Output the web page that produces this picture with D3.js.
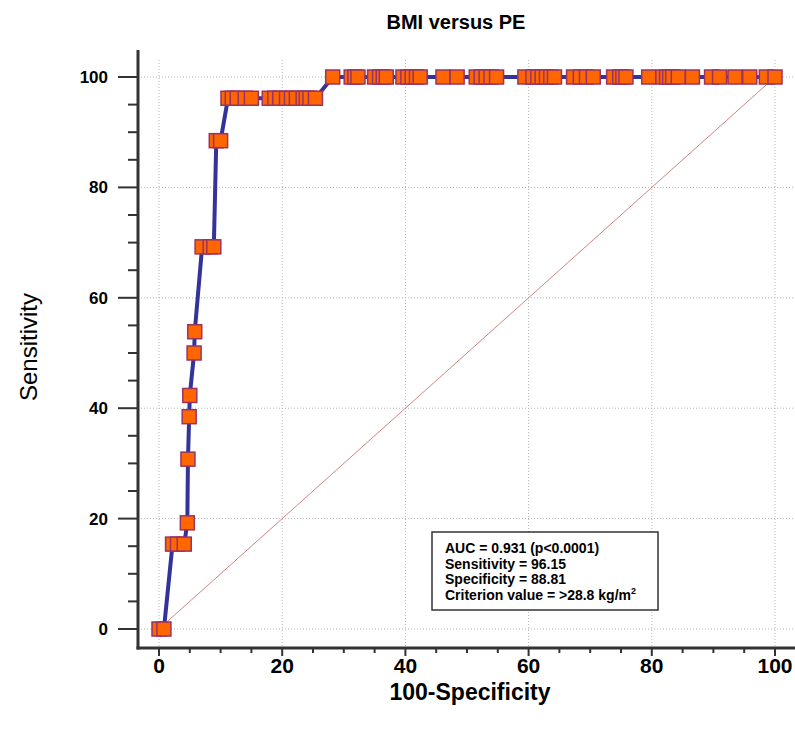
<!DOCTYPE html>
<html>
<head>
<meta charset="utf-8">
<script src="https://cdn.jsdelivr.net/npm/d3@7"></script>
<style>
  body { margin: 0; background: #fff; }
  text { font-family: Arial, "Liberation Sans", sans-serif; }
</style>
</head>
<body>
<div id="chart"></div>
<script>
// ROC points: 100-Specificity (x) and Sensitivity (y)
const fpr = [0, 0.8,
  2.2, 3.0, 4.1,
  4.6, 4.7, 4.9, 5.0, 5.7, 5.8,
  7.0, 8.3, 8.9,
  9.3, 10.0,
  11.2, 11.9, 12.7, 14.0, 15.0, 17.9, 18.8, 19.6, 20.7, 21.5, 22.3, 23.4, 23.9, 24.5, 25.4,
  28.2, 31.2, 31.8, 32.3, 35.0, 35.8, 36.4, 36.9, 39.6, 40.4, 41.1, 41.8, 42.4, 46.1, 48.4,
  51.5, 52.3, 53.1, 53.9, 54.8, 59.4, 60.7, 61.5, 62.2, 62.9, 63.6, 64.2, 67.3, 68.4, 69.4, 70.5,
  73.8, 74.8, 75.3, 75.8, 79.5, 81.8, 82.4, 82.9, 83.4, 84.3, 86.6, 89.7, 91.0, 93.5, 95.9, 98.6, 100];
const sens = [0, 0,
  15.38, 15.38, 15.38,
  19.23, 30.77, 38.46, 42.31, 50.0, 53.85,
  69.23, 69.23, 69.23,
  88.46, 88.46,
  96.15, 96.15, 96.15, 96.15, 96.15, 96.15, 96.15, 96.15, 96.15, 96.15, 96.15, 96.15, 96.15, 96.15, 96.15,
  100, 100, 100, 100, 100, 100, 100, 100, 100, 100, 100, 100, 100, 100, 100,
  100, 100, 100, 100, 100, 100, 100, 100, 100, 100, 100, 100, 100, 100, 100, 100,
  100, 100, 100, 100, 100, 100, 100, 100, 100, 100, 100, 100, 100, 100, 100, 100, 100];
const majorTicks = [0, 20, 40, 60, 80, 100];
const minorTicks = d3.range(0, 101, 5);
const statLines = ["AUC = 0.931 (p<0.0001)", "Sensitivity = 96.15", "Specificity = 88.81", "Criterion value = >28.8 kg/m"];

const width = 795, height = 734;
const svg = d3.select("#chart").append("svg")
    .attr("width", width)
    .attr("height", height);

const x = d3.scaleLinear().domain([0, 100]).range([159, 775]);
const y = d3.scaleLinear().domain([0, 100]).range([629, 77]);
const axisX = 138, axisY = 648;

// dotted grid
svg.selectAll(".vgrid").data(majorTicks).enter().append("line")
    .attr("x1", d => x(d)).attr("x2", d => x(d))
    .attr("y1", 60).attr("y2", axisY)
    .attr("stroke", "#b5b5b5").attr("stroke-dasharray", "1,2");
svg.selectAll(".hgrid").data(majorTicks).enter().append("line")
    .attr("x1", axisX).attr("x2", 793)
    .attr("y1", d => y(d)).attr("y2", d => y(d))
    .attr("stroke", "#b5b5b5").attr("stroke-dasharray", "1,2");

// diagonal reference
svg.append("line")
    .attr("x1", x(0)).attr("y1", y(0))
    .attr("x2", x(100)).attr("y2", y(100))
    .attr("stroke", "#c06464").attr("stroke-width", 0.8);

// y axis
const gy = svg.append("g").attr("transform", `translate(${axisX},0)`);
gy.selectAll(".tk").data(minorTicks).enter().append("line")
    .attr("x1", d => d % 20 === 0 ? -20 : -10).attr("x2", 0)
    .attr("y1", d => y(d)).attr("y2", d => y(d))
    .attr("stroke", "#333").attr("stroke-width", 2);
gy.selectAll(".lb").data(majorTicks).enter().append("text")
    .attr("x", -30).attr("y", d => y(d)).attr("dy", "0.35em")
    .attr("text-anchor", "end")
    .style("font-size", "17px").style("font-weight", "bold")
    .text(d => d);
svg.append("line")
    .attr("x1", axisX).attr("x2", axisX).attr("y1", 50).attr("y2", axisY + 1.5)
    .attr("stroke", "#333").attr("stroke-width", 3);

// x axis
const gx = svg.append("g").attr("transform", `translate(0,${axisY})`);
gx.selectAll(".tk").data(minorTicks).enter().append("line")
    .attr("x1", d => x(d)).attr("x2", d => x(d))
    .attr("y1", 0).attr("y2", d => d % 20 === 0 ? 8 : 5)
    .attr("stroke", "#333").attr("stroke-width", 2);
gx.selectAll(".lb").data(majorTicks).enter().append("text")
    .attr("x", d => x(d)).attr("y", 25)
    .attr("text-anchor", "middle")
    .style("font-size", "21px").style("font-weight", "bold")
    .text(d => d);
svg.append("line")
    .attr("x1", axisX - 1.5).attr("x2", width).attr("y1", axisY).attr("y2", axisY)
    .attr("stroke", "#333").attr("stroke-width", 3);

// ROC curve
const pts = fpr.map((d, i) => [d, sens[i]]);
svg.append("path")
    .datum(pts)
    .attr("fill", "none")
    .attr("stroke", "#333399")
    .attr("stroke-width", 4)
    .attr("d", d3.line().x(d => x(d[0])).y(d => y(d[1])));

const ms = 14;
svg.selectAll(".pt").data(pts).enter().append("rect")
    .attr("x", d => x(d[0]) - ms / 2).attr("y", d => y(d[1]) - ms / 2)
    .attr("width", ms).attr("height", ms)
    .attr("fill", "#ff6600").attr("stroke", "#993366").attr("stroke-width", 1.5);

// titles
svg.append("text").attr("x", 456).attr("y", 29)
    .attr("text-anchor", "middle")
    .style("font-size", "20px").style("font-weight", "bold")
    .text("BMI versus PE");
svg.append("text").attr("x", 470).attr("y", 700)
    .attr("text-anchor", "middle")
    .style("font-size", "23px").style("font-weight", "bold")
    .text("100-Specificity");
svg.append("text")
    .attr("transform", "translate(37,347) rotate(-90)")
    .attr("text-anchor", "middle")
    .style("font-size", "24px")
    .text("Sensitivity");

// stats box
const box = svg.append("g").attr("transform", "translate(432,532)");
box.append("rect").attr("width", 226).attr("height", 78)
    .attr("fill", "#fff").attr("stroke", "#333").attr("stroke-width", 1.5);
box.selectAll("text").data(statLines).enter().append("text")
    .attr("x", 13).attr("y", (d, i) => 21 + i * 15.5)
    .style("font-size", "14px").style("font-weight", "bold")
    .text(d => d)
    .filter((d, i) => i === 3)
    .append("tspan").attr("dy", -6).style("font-size", "9px").text("2");
</script>
</body>
</html>
